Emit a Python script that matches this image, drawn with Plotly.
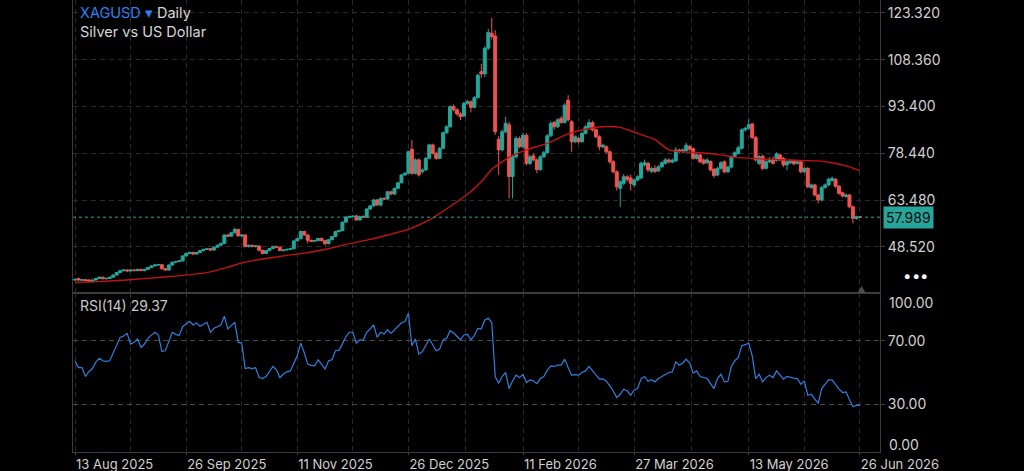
import pandas as pd
import plotly.graph_objects as go

# ---------------- data ----------------
all_days = pd.bdate_range("2025-08-13", "2026-06-26")
dates = [d for d in all_days if d != pd.Timestamp("2025-12-25")]

opens = [
    37.9, 38.4, 37.8, 38.0, 37.9, 37.4, 37.9, 38.4, 38.8, 38.3,
    38.4, 38.8, 39.5, 40.3, 40.9, 41.1, 40.8, 41.1, 40.9, 41.3,
    40.9, 41.3, 41.9, 42.4, 42.7, 42.8, 41.5, 41.1, 42.7, 43.6,
    43.8, 44.0, 45.6, 46.4, 46.7, 46.2, 46.7, 47.3, 47.7, 47.9,
    47.5, 48.4, 49.0, 49.6, 52.3, 51.9, 53.0, 54.1, 52.0, 52.3,
    48.6, 49.0, 48.6, 48.8, 47.4, 46.4, 47.3, 48.0, 48.6, 48.4,
    47.3, 47.5, 47.7, 47.9, 50.4, 51.1, 53.4, 52.3, 50.6, 50.3,
    50.5, 51.2, 50.5, 49.5, 50.8, 51.8, 53.4, 53.7, 56.4, 58.0,
    58.2, 58.4, 57.1, 58.2, 58.0, 60.6, 61.6, 63.5, 61.9, 64.0,
    63.8, 66.1, 65.4, 67.2, 69.0, 71.5, 72.0, 79.7, 72.0, 76.3,
    72.5, 73.1, 76.8, 81.1, 78.4, 76.8, 80.0, 85.0, 86.9, 93.3,
    92.3, 91.0, 90.3, 94.4, 94.9, 93.1, 96.2, 104.5, 103.8, 112.0,
    116.8, 115.9, 82.9, 79.5, 85.3, 87.5, 71.0, 77.3, 83.2, 80.5,
    84.2, 75.2, 77.6, 76.3, 73.2, 77.3, 78.6, 84.0, 88.3, 86.9,
    89.6, 88.3, 95.4, 88.5, 82.1, 83.2, 82.1, 84.8, 86.4, 88.2,
    85.9, 83.7, 80.5, 80.5, 78.9, 75.7, 72.5, 67.2, 68.8, 70.9,
    70.5, 68.3, 69.9, 70.5, 74.7, 75.2, 72.7, 73.6, 72.8, 74.1,
    75.2, 76.3, 75.6, 76.0, 79.5, 78.9, 79.3, 80.6, 79.9, 76.8,
    77.9, 76.3, 75.4, 75.8, 73.3, 71.5, 73.6, 75.7, 72.5, 74.0,
    77.5, 78.4, 80.0, 85.9, 86.4, 87.8, 83.5, 75.2, 77.5, 73.6,
    75.7, 76.5, 76.1, 77.9, 76.8, 74.7, 75.4, 76.1, 75.2, 75.7,
    72.5, 73.6, 67.5, 68.3, 65.1, 63.5, 67.5, 68.3, 69.7, 70.1,
    67.9, 65.8, 64.6, 65.1, 61.3, 57.6, 58.1,
]

closes = [
    38.1, 37.9, 38.0, 37.7, 37.4, 37.9, 38.4, 38.8, 38.3, 38.4,
    38.8, 39.5, 40.3, 40.9, 41.1, 40.8, 41.1, 40.9, 41.3, 40.9,
    41.3, 41.9, 42.4, 42.7, 42.8, 41.5, 41.1, 42.7, 43.6, 43.8,
    44.0, 45.6, 46.4, 46.7, 46.2, 46.7, 47.3, 47.7, 47.9, 47.5,
    48.4, 49.0, 49.6, 52.3, 51.9, 53.0, 54.1, 52.0, 52.3, 48.6,
    49.0, 48.6, 48.8, 47.4, 46.4, 47.3, 48.0, 48.6, 48.4, 47.3,
    47.5, 47.7, 47.9, 50.4, 51.1, 53.4, 52.3, 50.6, 50.3, 50.5,
    51.2, 50.5, 49.5, 50.8, 51.8, 53.4, 53.7, 56.4, 58.0, 58.2,
    58.3, 57.1, 58.2, 58.0, 60.6, 61.6, 63.5, 61.9, 64.0, 63.8,
    66.1, 65.4, 67.2, 69.0, 71.5, 72.0, 78.9, 72.0, 76.3, 71.5,
    73.1, 76.8, 81.1, 78.4, 76.8, 80.0, 85.0, 86.9, 93.3, 92.3,
    91.0, 90.1, 94.4, 94.9, 93.1, 96.2, 103.4, 103.8, 112.0, 117.0,
    115.7, 85.3, 79.5, 85.3, 88.0, 71.0, 77.3, 83.2, 80.5, 84.2,
    75.2, 77.3, 76.3, 73.2, 77.3, 78.6, 84.0, 88.0, 86.9, 89.1,
    88.3, 93.8, 89.1, 82.1, 83.7, 82.1, 84.8, 86.9, 88.2, 85.9,
    83.7, 80.5, 81.0, 78.9, 75.7, 72.5, 67.7, 69.3, 70.9, 70.0,
    68.8, 69.9, 70.9, 75.2, 75.4, 73.1, 73.6, 72.6, 74.1, 75.4,
    76.3, 75.6, 76.2, 79.5, 79.0, 79.5, 81.0, 79.7, 76.8, 77.9,
    75.7, 75.2, 76.3, 73.1, 71.3, 73.6, 75.4, 72.5, 74.0, 77.3,
    78.6, 80.2, 85.9, 86.4, 87.5, 83.5, 76.3, 77.3, 73.6, 75.7,
    76.5, 75.2, 78.2, 76.3, 74.7, 75.7, 76.1, 75.0, 75.7, 72.5,
    73.6, 67.7, 68.3, 65.1, 63.5, 67.5, 68.3, 70.1, 70.4, 67.9,
    65.6, 64.8, 65.1, 61.3, 57.6, 58.1, 57.989,
]

highs = [
    38.4, 38.6, 38.2, 38.2, 38.1, 38.1, 38.6, 39.0, 39.0, 38.7,
    39.0, 39.7, 40.5, 41.2, 41.4, 41.4, 41.3, 41.4, 41.5, 41.5,
    41.5, 42.1, 42.6, 43.0, 43.1, 43.0, 41.8, 42.9, 43.8, 44.1,
    44.3, 45.8, 46.7, 47.0, 47.0, 46.9, 47.5, 47.9, 48.2, 48.1,
    48.6, 49.3, 49.9, 52.5, 52.7, 53.3, 54.6, 54.3, 52.6, 52.5,
    49.3, 49.2, 49.1, 49.0, 47.6, 47.5, 48.2, 48.9, 48.9, 48.6,
    47.8, 47.9, 48.1, 50.6, 51.4, 53.7, 53.7, 52.5, 50.8, 50.8,
    51.4, 51.5, 50.8, 51.0, 52.0, 53.6, 54.0, 56.6, 58.3, 58.5,
    58.6, 58.7, 58.5, 58.6, 60.8, 61.9, 63.8, 63.8, 64.3, 64.4,
    66.4, 66.5, 67.5, 69.3, 71.8, 72.4, 79.3, 82.7, 76.8, 76.8,
    73.6, 77.2, 81.5, 81.5, 78.9, 80.4, 85.4, 87.4, 93.8, 94.0,
    92.8, 91.5, 94.9, 95.5, 95.3, 96.7, 103.9, 107.0, 112.6, 118.2,
    121.6, 117.8, 84.0, 86.0, 90.1, 88.5, 78.0, 84.0, 83.8, 85.0,
    84.8, 78.0, 78.4, 76.8, 77.8, 79.2, 84.6, 88.6, 88.8, 89.6,
    90.3, 94.4, 97.0, 89.0, 84.2, 83.6, 85.3, 87.4, 89.3, 88.8,
    86.4, 84.2, 81.5, 81.0, 79.3, 76.2, 73.0, 69.8, 71.8, 71.4,
    71.6, 70.4, 71.4, 75.8, 76.4, 75.7, 74.1, 74.6, 74.6, 75.9,
    76.9, 76.8, 76.7, 80.4, 79.9, 80.0, 81.8, 81.1, 80.3, 78.4,
    78.3, 76.7, 76.8, 76.2, 73.7, 74.1, 75.9, 76.1, 74.5, 77.8,
    79.1, 80.9, 86.4, 86.9, 89.3, 88.2, 84.0, 78.0, 78.0, 76.2,
    77.2, 77.4, 78.7, 78.3, 77.2, 76.2, 76.6, 76.5, 76.2, 76.1,
    74.0, 74.0, 68.8, 68.7, 65.5, 67.9, 68.8, 70.6, 71.0, 70.5,
    68.3, 66.2, 65.6, 65.5, 61.7, 58.5, 58.3,
]

lows = [
    37.6, 37.7, 37.6, 37.5, 37.2, 37.2, 37.8, 38.2, 38.1, 38.1,
    38.2, 38.6, 39.3, 40.1, 40.6, 40.6, 40.6, 40.7, 40.7, 40.7,
    40.7, 41.1, 41.7, 42.2, 42.5, 41.3, 40.9, 40.9, 42.5, 43.4,
    43.6, 43.8, 45.4, 46.1, 45.9, 46.0, 46.5, 47.1, 47.5, 47.2,
    47.3, 48.2, 48.8, 49.4, 51.6, 51.7, 52.8, 51.8, 51.6, 48.3,
    48.3, 48.3, 48.3, 47.1, 46.1, 46.2, 47.1, 47.8, 48.1, 47.1,
    47.0, 47.3, 47.5, 47.7, 50.2, 50.9, 52.0, 49.6, 50.0, 50.1,
    50.3, 50.2, 48.9, 49.3, 50.6, 51.6, 53.1, 53.5, 56.2, 57.7,
    57.9, 56.9, 56.9, 57.8, 57.7, 60.4, 61.4, 61.5, 61.4, 63.5,
    63.5, 65.0, 65.1, 67.0, 68.8, 71.2, 71.8, 71.5, 71.6, 71.0,
    72.0, 72.8, 76.5, 78.0, 76.3, 76.5, 79.7, 84.6, 86.6, 91.8,
    90.4, 89.0, 90.0, 93.9, 91.5, 92.8, 95.9, 102.5, 102.8, 111.5,
    114.8, 84.3, 71.5, 79.0, 84.8, 64.0, 64.0, 76.8, 80.0, 80.0,
    74.5, 74.6, 75.8, 72.0, 72.8, 76.9, 78.2, 83.6, 86.0, 86.5,
    87.8, 87.9, 88.6, 78.9, 81.6, 81.5, 81.8, 84.4, 86.0, 85.4,
    83.2, 79.4, 80.0, 78.4, 75.0, 72.0, 66.5, 61.3, 68.2, 69.4,
    66.5, 67.5, 69.4, 70.1, 74.2, 72.4, 72.1, 72.1, 72.4, 73.8,
    74.8, 75.2, 75.2, 75.6, 78.5, 78.5, 78.9, 79.2, 76.3, 76.4,
    75.2, 74.8, 75.0, 72.6, 70.6, 71.1, 73.2, 72.0, 72.1, 73.6,
    77.1, 78.0, 79.6, 85.4, 86.0, 83.0, 75.8, 74.6, 73.0, 73.2,
    75.3, 74.8, 75.7, 75.9, 74.0, 73.0, 75.0, 74.6, 74.8, 72.0,
    72.1, 67.2, 67.0, 64.6, 62.4, 63.1, 67.1, 67.9, 69.3, 67.4,
    65.1, 64.3, 64.2, 60.8, 56.0, 57.2, 57.8,
]

rsi = [
    57.0, 53.1, 53.1, 47.5, 50.5, 52.5, 56.5, 59.0, 57.4, 57.0,
    57.4, 62.6, 68.0, 72.1, 73.0, 74.6, 67.9, 69.0, 71.1, 65.8,
    67.9, 71.5, 73.5, 75.3, 73.6, 63.3, 63.7, 70.0, 75.3, 74.0,
    73.2, 78.8, 80.5, 82.2, 79.9, 81.2, 79.1, 80.3, 81.6, 75.3,
    77.8, 78.8, 79.9, 85.4, 77.4, 79.5, 81.6, 68.9, 68.5, 52.5,
    53.0, 52.5, 53.0, 47.0, 46.2, 47.5, 50.5, 53.8, 51.7, 46.8,
    49.0, 50.4, 51.0, 55.3, 60.5, 68.5, 62.6, 55.3, 54.5, 54.2,
    58.0, 55.3, 52.1, 57.4, 58.0, 63.7, 63.9, 68.0, 72.5, 75.3,
    75.3, 68.5, 70.6, 70.4, 75.3, 77.5, 79.9, 72.1, 75.3, 74.2,
    76.9, 74.6, 77.0, 79.0, 81.3, 82.0, 87.3, 66.8, 71.1, 61.6,
    63.0, 67.0, 71.1, 67.5, 63.7, 64.7, 70.6, 71.5, 76.3, 74.8,
    72.5, 70.6, 73.6, 73.9, 70.6, 73.2, 77.8, 77.5, 83.0, 84.1,
    81.6, 47.5, 43.2, 47.5, 50.0, 39.9, 44.7, 48.3, 46.8, 48.7,
    43.7, 45.4, 44.7, 43.0, 46.2, 47.5, 51.5, 54.2, 53.8, 54.6,
    54.6, 58.4, 53.2, 48.3, 48.7, 48.3, 50.0, 51.0, 53.8, 51.0,
    48.3, 45.8, 46.0, 44.5, 41.6, 38.4, 34.2, 36.3, 39.5, 38.5,
    35.7, 39.0, 39.9, 46.0, 47.5, 44.5, 45.5, 44.1, 46.2, 47.5,
    48.3, 50.0, 50.4, 56.7, 54.6, 56.0, 58.4, 55.9, 49.6, 51.0,
    47.5, 47.0, 46.2, 43.0, 39.9, 46.2, 48.9, 44.1, 44.5, 53.8,
    57.4, 59.5, 66.8, 67.5, 68.5, 60.5, 46.2, 48.9, 44.1, 46.8,
    48.3, 46.8, 51.0, 48.5, 45.8, 47.5, 46.8, 46.5, 46.2, 42.6,
    44.7, 35.7, 36.3, 33.2, 30.6, 39.9, 42.6, 45.4, 45.4, 42.5,
    39.5, 37.4, 37.8, 33.0, 28.5, 29.4, 29.37,
]

# moving average, read at selected bars
ma_bar = [0, 5, 15, 25, 34, 39, 44, 49, 54, 60, 66, 73, 78, 85, 90, 96, 102,
          108, 113, 117, 120, 125, 130, 136, 142, 147, 152, 157, 162, 167,
          171, 175, 180, 186, 190, 195, 200, 209, 214, 218, 222, 226]
ma_val = [37.2, 37.3, 37.9, 38.8, 39.7, 40.5, 42.0, 43.6, 44.6, 45.6, 46.5,
          47.9, 49.3, 50.9, 52.3, 54.1, 57.1, 61.4, 65.3, 69.3, 73.3, 77.1,
          79.5, 81.6, 84.6, 86.1, 86.9, 86.7, 84.8, 82.8, 79.5, 78.9, 78.6,
          77.9, 77.1, 76.8, 76.5, 76.1, 76.0, 75.4, 74.4, 72.9]

price_ticks = [48.52, 63.48, 78.44, 93.40, 108.36, 123.32]
label_dates = ["2025-08-13", "2025-09-26", "2025-11-11", "2025-12-26",
               "2026-02-11", "2026-03-27", "2026-05-13", "2026-06-26"]
last_price = 57.989
rsi_last = 29.37

# ---------------- figure ----------------
n = len(opens)
xs = list(range(n))
date_pos = {d.strftime("%Y-%m-%d"): i for i, d in enumerate(dates)}
tick_idx = [date_pos[d] for d in label_dates]
tick_txt = [f"{pd.Timestamp(d).day} {pd.Timestamp(d).strftime('%b %Y')}" for d in label_dates]
mid_idx = [(a + b) / 2 for a, b in zip(tick_idx[:-1], tick_idx[1:])]

UP, DOWN = "#26a69a", "#ef5350"
GRID, BORDER, TXT = "#2a2a2a", "#3c3c3c", "#d0d0d0"
FONT = "Inter"

fig = go.Figure()
fig.add_trace(go.Candlestick(
    x=xs, open=opens, high=highs, low=lows, close=closes,
    increasing=dict(line=dict(color=UP, width=1), fillcolor=UP),
    decreasing=dict(line=dict(color=DOWN, width=1), fillcolor=DOWN),
    whiskerwidth=0, xaxis="x", yaxis="y", hoverinfo="skip", showlegend=False))
fig.add_trace(go.Scatter(x=ma_bar, y=ma_val, mode="lines",
                         line=dict(color="#c21212", width=1.4, shape="spline", smoothing=0.6),
                         xaxis="x", yaxis="y", hoverinfo="skip", showlegend=False))
fig.add_trace(go.Scatter(x=xs, y=rsi, mode="lines",
                         line=dict(color="#2f7fe0", width=1.2),
                         xaxis="x2", yaxis="y2", hoverinfo="skip", showlegend=False))

xr = [-0.58, 231.8]
dash = "5px,4px"
xcommon = dict(range=xr, tickmode="array", tickvals=tick_idx, showgrid=True,
               gridcolor=GRID, griddash=dash, gridwidth=1, zeroline=False,
               showline=True, linecolor=BORDER, linewidth=1, mirror=True,
               minor=dict(tickmode="array", tickvals=mid_idx, showgrid=True,
                          gridcolor=GRID, griddash=dash, ticks=""))
split = 1 - 293 / 452
TICKFONT = dict(family=FONT, size=14, color=TXT)
XFONT = dict(family=FONT, size=13, color=TXT)

fig.update_layout(
    template="none", width=1024, height=471, autosize=False,
    margin=dict(l=73, r=144, t=0, b=19, pad=0),
    paper_bgcolor="#000000", plot_bgcolor="#000000",
    font=dict(family=FONT, size=13, color=TXT),
    hovermode=False, showlegend=False,
    boxgap=0.15, boxgroupgap=0,
    xaxis=dict(**xcommon, domain=[0, 1], anchor="y", showticklabels=False,
               ticks="", rangeslider=dict(visible=False)),
    xaxis2=dict(**xcommon, domain=[0, 1], anchor="y2", matches="x",
                ticktext=tick_txt, ticks="outside", ticklen=2, tickcolor=BORDER,
                ticklabelposition="outside right", tickfont=XFONT),
    yaxis=dict(domain=[split, 1], range=[33.75, 127.42], side="right",
               tickmode="array", tickvals=price_ticks, tickformat=".3f",
               showgrid=True, gridcolor=GRID, griddash=dash, zeroline=False,
               ticks="outside", ticklen=4, tickcolor=BORDER,
               showline=True, linecolor=BORDER, mirror=True, tickfont=TICKFONT),
    yaxis2=dict(domain=[0, split], range=[0, 100], side="right",
                tickmode="array", tickvals=[30, 70], tickformat=".2f",
                showgrid=True, gridcolor="#4a4a4a", griddash=dash, zeroline=False,
                ticks="outside", ticklen=4, tickcolor=BORDER,
                showline=True, linecolor=BORDER, mirror=True, tickfont=TICKFONT),
)

W, H = 807.0, 452.0
def px(xpix):
    return (xpix - 73) / W
def py(ypix):
    return 1 - ypix / H

fig.add_shape(type="line", xref="paper", yref="y", x0=0, x1=1,
              y0=last_price, y1=last_price,
              line=dict(color=UP, width=1, dash="dot"))

ann = [
    dict(x=px(78), y=py(13), text='<span style="color:#2f7ff0">XAGUSD ▾</span> Daily',
         font=dict(family=FONT, size=14.5, color="#d6d6d6")),
    dict(x=px(78), y=py(31), text="Silver vs US Dollar",
         font=dict(family=FONT, size=14.5, color="#d6d6d6")),
    dict(x=px(78), y=py(305), text=f"RSI(14) {rsi_last:.2f}",
         font=dict(family=FONT, size=14, color="#c8c8c8")),
    dict(x=px(887), y=py(302.7), text=f"{100:.2f}", font=TICKFONT),
    dict(x=px(887), y=py(444), text=f"{0:.2f}", font=TICKFONT),
]
for a in ann:
    fig.add_annotation(xref="paper", yref="paper", xanchor="left", yanchor="middle",
                       showarrow=False, **a)
for xd in (906.7, 915.5, 924.3):
    fig.add_annotation(xref="paper", yref="paper", x=px(xd), y=py(275),
                       xanchor="center", yanchor="middle", showarrow=False,
                       text="•", font=dict(family=FONT, size=15, color="#ffffff"))

fig.add_annotation(xref="paper", yref="y", x=px(883), y=last_price,
                   xanchor="left", yanchor="middle", showarrow=False,
                   text=f"{last_price:.3f}", bgcolor=UP, borderpad=2,
                   font=dict(family=FONT, size=14, color="#0b0b0b"))
fig.add_annotation(xref="paper", yref="paper", x=px(861), y=py(289),
                   xanchor="center", yanchor="middle", showarrow=False,
                   text="▲", font=dict(size=9, color="#4d4d4d"))

fig.write_html("out.html")
